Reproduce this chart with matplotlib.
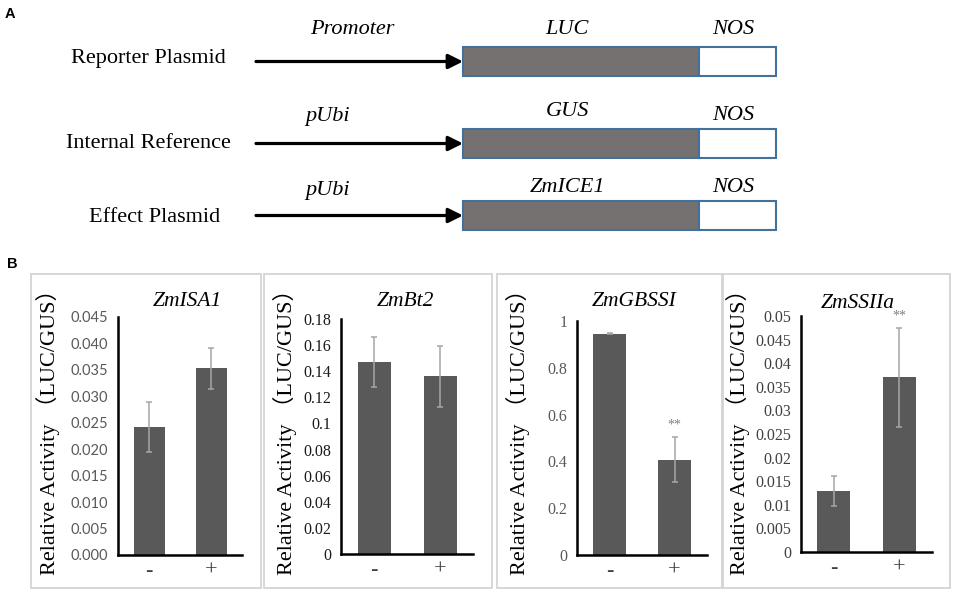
"""Dual-luciferase assay: construct diagram (A) and relative activity bars (B)."""

import matplotlib

matplotlib.use("Agg")
import matplotlib.pyplot as plt
from matplotlib.patches import Rectangle

W, H = 957, 598

# ---- panel A: constructs ----
construct_names = ["Reporter Plasmid", "Internal Reference", "Effect Plasmid"]
promoter_names = ["Promoter", "pUbi", "pUbi"]
coding_names = ["LUC", "GUS", "ZmICE1"]
terminator_names = ["NOS", "NOS", "NOS"]

# ---- panel B: relative activity (LUC/GUS) ----
genes = ["ZmISA1", "ZmBt2", "ZmGBSSI", "ZmSSIIa"]
conditions = ["-", "+"]
mean_minus = [0.0242, 0.147, 0.946, 0.0129]
mean_plus = [0.0353, 0.136, 0.408, 0.0370]
err_minus = [0.0048, 0.019, 0.003, 0.0032]
err_plus = [0.0039, 0.0235, 0.095, 0.0105]
signif_plus = ["", "", "**", "**"]
ytick_labels = [
    ["0.000", "0.005", "0.010", "0.015", "0.020", "0.025", "0.030", "0.035", "0.040", "0.045"],
    ["0", "0.02", "0.04", "0.06", "0.08", "0.1", "0.12", "0.14", "0.16", "0.18"],
    ["0", "0.2", "0.4", "0.6", "0.8", "1"],
    ["0", "0.005", "0.01", "0.015", "0.02", "0.025", "0.03", "0.035", "0.04", "0.045", "0.05"],
]
ylabel = "Relative Activity （LUC/GUS）"

SERIF = ["Liberation Serif", "Noto Sans CJK SC", "DejaVu Serif"]
BAR_COLOR = "#595959"
ERR_COLOR = "#a6a6a6"

# layout in pixels
row_box_top = [47, 129, 201]
row_label_y = [59, 143, 218]
row_label_x = [148, 148, 155]
row_top_label_y = [[29, 29, 29], [117, 112, 116], [190, 188, 188]]
box_left, box_mid, box_right, box_h = 463, 699, 776, 29
arrow_start = 256

frames = [(31, 274, 261, 588), (264, 274, 492, 588), (497, 274, 722, 588), (723, 274, 950, 588)]
axes_px = [(118, 317, 242, 555), (341, 319, 473, 554), (577, 321, 707, 555), (801, 316, 932, 552)]
ylabel_x = [48, 285, 518, 738]
title_xy = [(187, 302), (405, 302), (634, 302), (858, 303)]
tick_styles = [
    dict(family=["Lato"], color="#595959", size=10.5),
    dict(family=SERIF, color="#1a1a1a", size=11.5),
    dict(family=SERIF, color="#595959", size=11.5),
    dict(family=SERIF, color="#404040", size=11.5),
]


def px_rect(left, top, right, bottom):
    return [left / W, 1 - bottom / H, (right - left) / W, (bottom - top) / H]


fig = plt.figure(figsize=(W / 100, H / 100), dpi=100)
ax0 = fig.add_axes([0, 0, 1, 1])
ax0.set_xlim(0, W)
ax0.set_ylim(H, 0)
ax0.axis("off")

ax0.text(10, 14, "A", fontsize=10.5, fontweight="bold", family="Liberation Sans", ha="center", va="center")
ax0.text(12, 264, "B", fontsize=10.5, fontweight="bold", family="Liberation Sans", ha="center", va="center")

for i, name in enumerate(construct_names):
    top = row_box_top[i]
    yc = top + box_h / 2
    ax0.text(row_label_x[i], row_label_y[i], name, family=SERIF, fontsize=16, ha="center", va="center")
    ax0.annotate("", xy=(box_left, yc), xytext=(arrow_start, yc),
                 arrowprops=dict(arrowstyle="-|>", lw=2.3, color="black", mutation_scale=22,
                                 shrinkA=0, shrinkB=0))
    ax0.add_patch(Rectangle((box_left, top), box_mid - box_left, box_h,
                            facecolor="#767171", edgecolor="#41719c", lw=1.5))
    ax0.add_patch(Rectangle((box_mid, top), box_right - box_mid, box_h,
                            facecolor="white", edgecolor="#41719c", lw=1.5))
    ly = row_top_label_y[i]
    ax0.text(352 if i == 0 else 328, ly[0], promoter_names[i], family=SERIF, style="italic",
             fontsize=16, ha="center", va="center")
    ax0.text(567, ly[1], coding_names[i], family=SERIF, style="italic", fontsize=16, ha="center", va="center")
    ax0.text(733, ly[2], terminator_names[i], family=SERIF, style="italic", fontsize=16,
             ha="center", va="center")

for left, top, right, bottom in frames:
    ax0.add_patch(Rectangle((left, top), right - left, bottom - top, facecolor="none",
                            edgecolor="#d4d4d4", lw=1.3))

x = [0, 1]
for k, gene in enumerate(genes):
    ax = fig.add_axes(px_rect(*axes_px[k]))
    ax.set_facecolor("none")
    means = [mean_minus[k], mean_plus[k]]
    errs = [err_minus[k], err_plus[k]]
    ax.bar(x, means, width=0.5, color=BAR_COLOR, zorder=2)
    ax.errorbar(x, means, yerr=errs, fmt="none", ecolor=ERR_COLOR, elinewidth=1.1,
                capsize=2.5, capthick=1.1, zorder=3)
    if signif_plus[k]:
        ax.annotate(signif_plus[k], xy=(1, mean_plus[k] + err_plus[k]), xytext=(0, 4),
                    textcoords="offset points", ha="center", va="bottom", fontsize=10,
                    color="#808080", family=SERIF, annotation_clip=False)
    ticks = [float(t) for t in ytick_labels[k]]
    ax.set_ylim(0, ticks[-1])
    ax.set_xlim(-0.5, 1.5)
    ax.set_yticks(ticks)
    ax.set_yticklabels(ytick_labels[k], **tick_styles[k])
    ax.set_xticks(x)
    ax.set_xticklabels(conditions, family=SERIF, fontsize=16, color="#404040")
    ax.tick_params(axis="y", length=0, pad=7)
    ax.tick_params(axis="x", length=0, pad=5)
    for side in ("top", "right"):
        ax.spines[side].set_visible(False)
    for side in ("left", "bottom"):
        ax.spines[side].set_linewidth(1.8)
        ax.spines[side].set_color("black")

    tx, ty = title_xy[k]
    ax0.text(tx, ty, gene, family=SERIF, style="italic", fontsize=15.5, ha="center", va="center")
    ax0.text(ylabel_x[k], 427, ylabel, family=SERIF, fontsize=16, rotation=90,
             ha="center", va="center")

fig.savefig("out.png", dpi=100)
